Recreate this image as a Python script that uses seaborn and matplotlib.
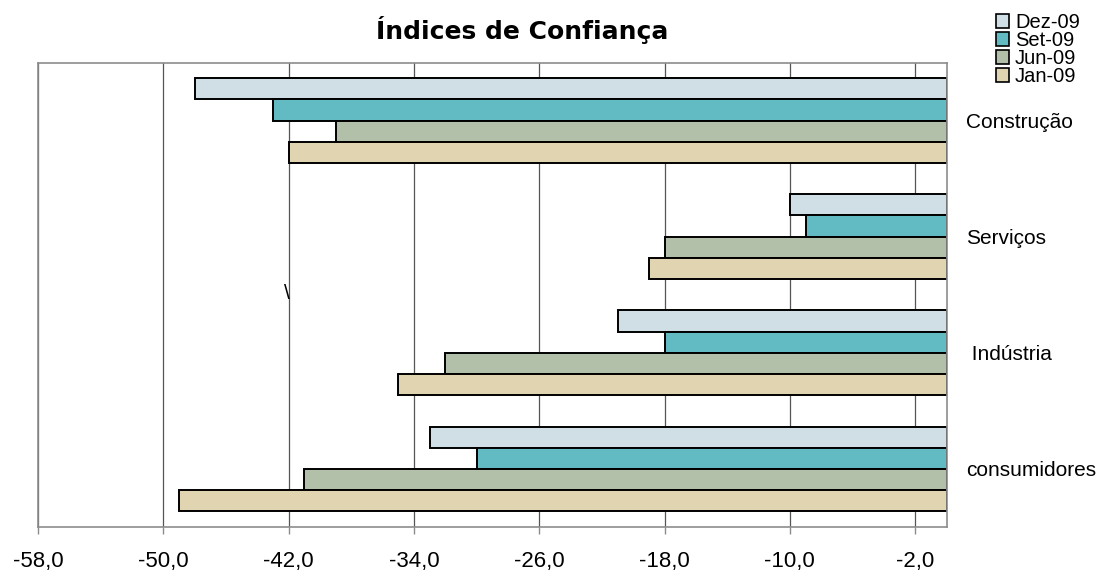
import seaborn as sns
import matplotlib.pyplot as plt
import pandas as pd
from matplotlib.patches import Patch

# dados
setores = ["Construção", "Serviços", " Indústria", "consumidores"]
meses = ["Dez-09", "Set-09", "Jun-09", "Jan-09"]
dez_09 = [-48, -10, -21, -33]
set_09 = [-43, -9, -18, -30]
jun_09 = [-39, -18, -32, -41]
jan_09 = [-42, -19, -35, -49]
cores = ["#D0DEE5", "#62BAC3", "#B2BFA9", "#E0D5B0"]
ticks_x = [-58, -50, -42, -34, -26, -18, -10, -2]

df = pd.DataFrame({
    "setor": setores * 4,
    "mes": [m for m in meses for _ in setores],
    "valor": dez_09 + set_09 + jun_09 + jan_09,
})

sns.set_style("white")
plt.rcParams["font.family"] = ["Liberation Sans", "DejaVu Sans"]
plt.rcParams["text.color"] = "black"
plt.rcParams["xtick.color"] = "black"
plt.rcParams["ytick.color"] = "black"

fig = plt.figure(figsize=(11.06, 5.72), dpi=100)
ax = fig.add_axes([38 / 1106, 1 - 527 / 572, (946.5 - 38) / 1106, (527 - 62.5) / 572])

sns.barplot(data=df, x="valor", y="setor", hue="mes", hue_order=meses,
            order=setores, palette=cores, orient="h", width=0.73, gap=0,
            edgecolor="black", linewidth=1.4, saturation=1, legend=False, ax=ax)

ax.set_xlim(-58, 0)
ax.set_ylim(3.5, -0.5)
ax.set_xticks(ticks_x)
ax.set_xticklabels([f"{v:.1f}".replace(".", ",") for v in ticks_x], fontsize=16)
ax.set_xlabel("")
ax.set_ylabel("")
ax.yaxis.tick_right()
ax.tick_params(axis="y", length=0, pad=14, labelsize=15)
ax.tick_params(axis="x", bottom=True, direction="out", length=5, width=1,
               color="#8c8c8c", labelcolor="black", pad=12)
ax.set_axisbelow(True)
ax.xaxis.grid(True, color="#555555", linewidth=0.9)
ax.yaxis.grid(False)
for s in ax.spines.values():
    s.set_visible(True)
    s.set_color("#8c8c8c")
    s.set_linewidth(1.2)

# risco solto que aparece no gráfico original
ax.text(-41.95, 1.49, "\\", ha="right", va="center", fontsize=15, color="black")

fig.text(522.5 / 1106, 1 - 39 / 572, "Índices de Confiança", ha="center",
         va="baseline", fontsize=18, fontweight="bold", family="DejaVu Sans",
         color="black")

handles = [Patch(facecolor=c, edgecolor="black", linewidth=1.2) for c in cores]
fig.legend(handles, meses, loc="upper left", bbox_to_anchor=(996 / 1106, 1 - 13 / 572),
           frameon=False, fontsize=14.5, handlelength=0.65, handleheight=0.65,
           handletextpad=0.3, labelspacing=-0.05, borderpad=0, borderaxespad=0)

fig.savefig("out.png", dpi=100)
